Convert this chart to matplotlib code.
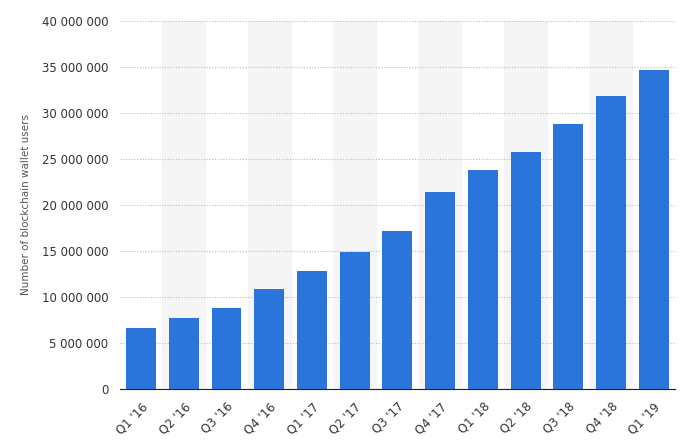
import matplotlib
matplotlib.use("Agg")
import matplotlib.pyplot as plt

QUARTERS = ["Q1 '16", "Q2 '16", "Q3 '16", "Q4 '16", "Q1 '17", "Q2 '17", "Q3 '17",
            "Q4 '17", "Q1 '18", "Q2 '18", "Q3 '18", "Q4 '18", "Q1 '19"]
USERS = [6.6e6, 7.7e6, 8.8e6, 10.9e6, 12.8e6, 14.9e6, 17.2e6,
         21.4e6, 23.8e6, 25.7e6, 28.8e6, 31.8e6, 34.6e6]
Y_TICKS = list(range(0, 40_000_001, 5_000_000))

fig = plt.figure(figsize=(6.84, 4.48), dpi=100)
ax = fig.add_axes([0.175, 0.132, 0.812, 0.822])

x = range(len(QUARTERS))
for i in x:
    if i % 2 == 1:
        ax.axvspan(i - 0.5, i + 0.5, color="#f5f5f5", zorder=0)
ax.bar(x, USERS, width=0.7, color="#2b74d9", zorder=3)

ax.set_xlim(-0.5, len(QUARTERS) - 0.5)
ax.set_ylim(0, 40_000_000)
ax.set_yticks(Y_TICKS)
ax.set_yticklabels([f"{v:,}".replace(",", " ") for v in Y_TICKS])
ax.yaxis.grid(True, linestyle=(0, (1, 1.5)), color="#bbbbbb", linewidth=0.8, zorder=1)
ax.set_xticks(list(x))
ax.set_xticklabels(QUARTERS, rotation=45, ha="right", rotation_mode="anchor")
ax.tick_params(axis="both", length=0, labelsize=8.5, colors="#333333", pad=8)
for s in ["top", "right", "left"]:
    ax.spines[s].set_visible(False)
ax.spines["bottom"].set_color("#222222")
ax.set_ylabel("Number of blockchain wallet users", fontsize=7.5, color="#555555", labelpad=8)

fig.savefig("out.png", dpi=100)
